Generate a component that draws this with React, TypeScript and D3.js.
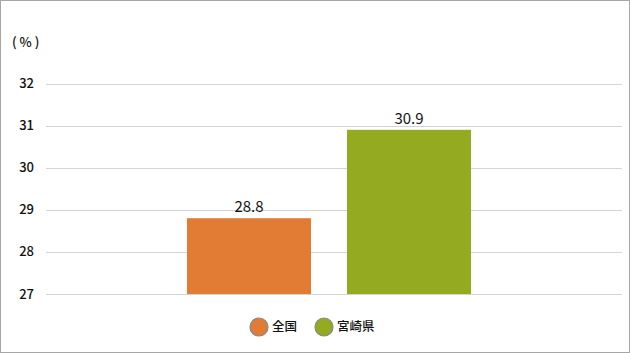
import React from "react";
import * as d3 from "d3";

const series = ["全国", "宮崎県"];
const values = [28.8, 30.9];
const colors = ["#E27B33", "#93AA21"];
const yTicks = [27, 28, 29, 30, 31, 32];

export default function App() {
  const W = 630, H = 353;
  const y = d3.scaleLinear().domain([27, 32]).range([294, 83.5]);
  const x = d3.scaleBand<string>().domain(series).range([187, 471]).paddingInner(0.225);
  const font = "'Noto Sans CJK JP', 'Noto Sans', sans-serif";
  const legendX = [259, 324];
  return (
    <svg width={W} height={H} style={{ position: "absolute", left: 0, top: 0, fontFamily: font }}>
      <rect x={0.5} y={0.5} width={W - 1} height={H - 1} fill="#fff" stroke="#a6a6a6" />
      <text x={12} y={47} fontSize={13} fill="#111" fontWeight={500} style={{ whiteSpace: "pre" }}>( % )</text>
      {yTicks.map((t) => (
        <g key={t}>
          <line x1={46} x2={622} y1={Math.round(y(t)) + 0.5} y2={Math.round(y(t)) + 0.5} stroke="#d4d4d4" strokeWidth={1} />
          <text x={34} y={y(t)} dy="0.35em" textAnchor="end" fontSize={13} fontWeight={500} fill="#111">{t}</text>
        </g>
      ))}
      {series.map((s, i) => (
        <g key={s}>
          <rect x={x(s)} y={y(values[i])} width={x.bandwidth()} height={y(27) - y(values[i])} fill={colors[i]} />
          <text x={(x(s) as number) + x.bandwidth() / 2} y={y(values[i]) - 6} textAnchor="middle" fontSize={15} fill="#111">
            {values[i].toFixed(1)}
          </text>
        </g>
      ))}
      {series.map((s, i) => (
        <g key={"lg" + s}>
          <circle cx={legendX[i]} cy={327} r={9} fill={colors[i]} stroke="#888" strokeWidth={1.2} />
          <text x={legendX[i] + 13} y={327} dy="0.35em" fontSize={12.5} fontWeight={500} fill="#111">{s}</text>
        </g>
      ))}
    </svg>
  );
}
